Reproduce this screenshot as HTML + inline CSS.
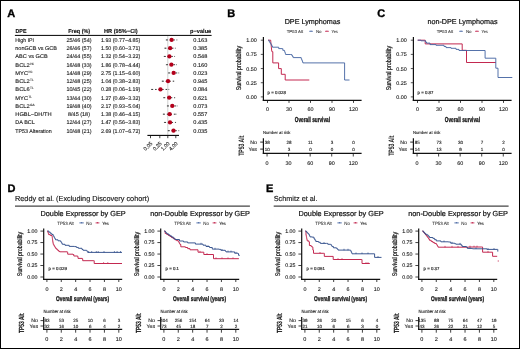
<!DOCTYPE html>
<html><head><meta charset="utf-8"><style>
html,body{margin:0;padding:0;background:#fff;}
#w{position:relative;width:520px;height:349px;overflow:hidden;background:#fff;}
svg{display:block;text-rendering:geometricPrecision;font-family:"Liberation Sans", sans-serif;filter:blur(0.4px);}
.bd{position:absolute;left:0;top:0;width:518px;height:347px;border:1px solid #000;}
</style></head><body><div id="w">
<svg width="520" height="349" viewBox="0 0 520 349" font-family='"Liberation Sans", sans-serif'>
<rect x="0" y="0" width="520" height="349" fill="#fff"/>
<text x="7.30" y="17.00" font-size="11" text-anchor="start" fill="#000" font-weight="bold" stroke="#000" stroke-width="0.35">A</text>
<text x="15.50" y="33.40" font-size="5.8" text-anchor="start" fill="#111" font-weight="bold" textLength="11.00" lengthAdjust="spacingAndGlyphs" stroke="#111" stroke-width="0.12">DPE</text>
<text x="68.20" y="33.40" font-size="5.8" text-anchor="start" fill="#111" font-weight="bold" textLength="22.00" lengthAdjust="spacingAndGlyphs" stroke="#111" stroke-width="0.12">Freq (%)</text>
<text x="104.00" y="33.40" font-size="5.8" text-anchor="start" fill="#111" font-weight="bold" textLength="33.70" lengthAdjust="spacingAndGlyphs" stroke="#111" stroke-width="0.12">HR (95%−CI)</text>
<text x="190.10" y="33.40" font-size="5.8" text-anchor="start" fill="#111" font-weight="bold" textLength="21.10" lengthAdjust="spacingAndGlyphs" stroke="#111" stroke-width="0.12">p−value</text>
<line x1="14.90" y1="35.40" x2="211.60" y2="35.40" stroke="#000" stroke-width="1.0"/>
<line x1="167.80" y1="36.00" x2="167.80" y2="135.00" stroke="#d0d0d0" stroke-width="1.0"/>
<text x="15.30" y="41.75" font-size="5.5" text-anchor="start" fill="#222" textLength="18.80" lengthAdjust="spacingAndGlyphs" stroke="#222" stroke-width="0.12">High IPI</text>
<text x="79.00" y="41.75" font-size="5.5" text-anchor="middle" fill="#222" stroke="#222" stroke-width="0.12">25/46 (54)</text>
<text x="120.65" y="41.75" font-size="5.3" text-anchor="middle" fill="#222" textLength="39.40" lengthAdjust="spacingAndGlyphs" stroke="#222" stroke-width="0.12">1.93 (0.77−4.85)</text>
<text x="200.30" y="41.75" font-size="5.5" text-anchor="middle" fill="#222" textLength="14.00" lengthAdjust="spacingAndGlyphs" stroke="#222" stroke-width="0.12">0.163</text>
<line x1="166.29" y1="39.95" x2="176.91" y2="39.95" stroke="#222" stroke-width="0.9" stroke-dasharray="1.6,1.9"/>
<line x1="166.29" y1="39.45" x2="166.29" y2="40.45" stroke="#222" stroke-width="0.6"/>
<line x1="176.91" y1="39.45" x2="176.91" y2="40.45" stroke="#222" stroke-width="0.6"/>
<circle cx="171.59" cy="39.95" r="2.15" fill="#b3001b"/>
<text x="15.30" y="50.00" font-size="5.5" text-anchor="start" fill="#222" textLength="41.70" lengthAdjust="spacingAndGlyphs" stroke="#222" stroke-width="0.12">nonGCB vs GCB</text>
<text x="79.00" y="50.00" font-size="5.5" text-anchor="middle" fill="#222" stroke="#222" stroke-width="0.12">26/46 (57)</text>
<text x="120.65" y="50.00" font-size="5.3" text-anchor="middle" fill="#222" textLength="39.40" lengthAdjust="spacingAndGlyphs" stroke="#222" stroke-width="0.12">1.50 (0.60−3.71)</text>
<text x="200.30" y="50.00" font-size="5.5" text-anchor="middle" fill="#222" textLength="14.00" lengthAdjust="spacingAndGlyphs" stroke="#222" stroke-width="0.12">0.385</text>
<line x1="164.85" y1="48.20" x2="175.36" y2="48.20" stroke="#222" stroke-width="0.9" stroke-dasharray="1.6,1.9"/>
<line x1="164.85" y1="47.70" x2="164.85" y2="48.70" stroke="#222" stroke-width="0.6"/>
<line x1="175.36" y1="47.70" x2="175.36" y2="48.70" stroke="#222" stroke-width="0.6"/>
<circle cx="170.14" cy="48.20" r="2.15" fill="#b3001b"/>
<text x="15.30" y="58.25" font-size="5.5" text-anchor="start" fill="#222" textLength="32.40" lengthAdjust="spacingAndGlyphs" stroke="#222" stroke-width="0.12">ABC vs GCB</text>
<text x="79.00" y="58.25" font-size="5.5" text-anchor="middle" fill="#222" stroke="#222" stroke-width="0.12">24/44 (55)</text>
<text x="120.65" y="58.25" font-size="5.3" text-anchor="middle" fill="#222" textLength="39.40" lengthAdjust="spacingAndGlyphs" stroke="#222" stroke-width="0.12">1.32 (0.54−3.22)</text>
<text x="200.30" y="58.25" font-size="5.5" text-anchor="middle" fill="#222" textLength="14.00" lengthAdjust="spacingAndGlyphs" stroke="#222" stroke-width="0.12">0.548</text>
<line x1="164.24" y1="56.45" x2="174.55" y2="56.45" stroke="#222" stroke-width="0.9" stroke-dasharray="1.6,1.9"/>
<line x1="164.24" y1="55.95" x2="164.24" y2="56.95" stroke="#222" stroke-width="0.6"/>
<line x1="174.55" y1="55.95" x2="174.55" y2="56.95" stroke="#222" stroke-width="0.6"/>
<circle cx="169.40" cy="56.45" r="2.15" fill="#b3001b"/>
<text x="15.30" y="66.50" font-size="5.5" text-anchor="start" fill="#222" textLength="14.40" lengthAdjust="spacingAndGlyphs" stroke="#222" stroke-width="0.12">BCL2</text>
<text x="30.00" y="64.50" font-size="3.2" fill="#333" stroke="#333" stroke-width="0.1" textLength="4.0" lengthAdjust="spacingAndGlyphs">IHC</text>
<text x="79.00" y="66.50" font-size="5.5" text-anchor="middle" fill="#222" stroke="#222" stroke-width="0.12">16/48 (33)</text>
<text x="120.65" y="66.50" font-size="5.3" text-anchor="middle" fill="#222" textLength="39.40" lengthAdjust="spacingAndGlyphs" stroke="#222" stroke-width="0.12">1.86 (0.78−4.44)</text>
<text x="200.30" y="66.50" font-size="5.5" text-anchor="middle" fill="#222" textLength="14.00" lengthAdjust="spacingAndGlyphs" stroke="#222" stroke-width="0.12">0.160</text>
<line x1="166.37" y1="64.70" x2="176.40" y2="64.70" stroke="#222" stroke-width="0.9" stroke-dasharray="1.6,1.9"/>
<line x1="166.37" y1="64.20" x2="166.37" y2="65.20" stroke="#222" stroke-width="0.6"/>
<line x1="176.40" y1="64.20" x2="176.40" y2="65.20" stroke="#222" stroke-width="0.6"/>
<circle cx="171.38" cy="64.70" r="2.15" fill="#b3001b"/>
<text x="15.30" y="74.75" font-size="5.5" text-anchor="start" fill="#222" textLength="12.80" lengthAdjust="spacingAndGlyphs" stroke="#222" stroke-width="0.12">MYC</text>
<text x="28.40" y="72.75" font-size="3.2" fill="#333" stroke="#333" stroke-width="0.1" textLength="4.0" lengthAdjust="spacingAndGlyphs">IHC</text>
<text x="79.00" y="74.75" font-size="5.5" text-anchor="middle" fill="#222" stroke="#222" stroke-width="0.12">14/48 (29)</text>
<text x="120.65" y="74.75" font-size="5.3" text-anchor="middle" fill="#222" textLength="39.40" lengthAdjust="spacingAndGlyphs" stroke="#222" stroke-width="0.12">2.75 (1.15−6.60)</text>
<text x="200.30" y="74.75" font-size="5.5" text-anchor="middle" fill="#222" textLength="14.00" lengthAdjust="spacingAndGlyphs" stroke="#222" stroke-width="0.12">0.023</text>
<line x1="168.61" y1="72.95" x2="178.69" y2="72.95" stroke="#222" stroke-width="0.9" stroke-dasharray="1.6,1.9"/>
<line x1="168.61" y1="72.45" x2="168.61" y2="73.45" stroke="#222" stroke-width="0.6"/>
<line x1="178.69" y1="72.45" x2="178.69" y2="73.45" stroke="#222" stroke-width="0.6"/>
<circle cx="173.64" cy="72.95" r="2.15" fill="#b3001b"/>
<text x="15.30" y="83.00" font-size="5.5" text-anchor="start" fill="#222" textLength="14.40" lengthAdjust="spacingAndGlyphs" stroke="#222" stroke-width="0.12">BCL2</text>
<text x="30.00" y="81.00" font-size="3.2" fill="#333" stroke="#333" stroke-width="0.1">TL</text>
<text x="79.00" y="83.00" font-size="5.5" text-anchor="middle" fill="#222" stroke="#222" stroke-width="0.12">12/48 (25)</text>
<text x="120.65" y="83.00" font-size="5.3" text-anchor="middle" fill="#222" textLength="39.40" lengthAdjust="spacingAndGlyphs" stroke="#222" stroke-width="0.12">1.04 (0.38−2.83)</text>
<text x="200.30" y="83.00" font-size="5.5" text-anchor="middle" fill="#222" textLength="14.00" lengthAdjust="spacingAndGlyphs" stroke="#222" stroke-width="0.12">0.945</text>
<line x1="162.22" y1="81.20" x2="173.80" y2="81.20" stroke="#222" stroke-width="0.9" stroke-dasharray="1.6,1.9"/>
<line x1="162.22" y1="80.70" x2="162.22" y2="81.70" stroke="#222" stroke-width="0.6"/>
<line x1="173.80" y1="80.70" x2="173.80" y2="81.70" stroke="#222" stroke-width="0.6"/>
<circle cx="168.03" cy="81.20" r="2.15" fill="#b3001b"/>
<text x="15.30" y="91.25" font-size="5.5" text-anchor="start" fill="#222" textLength="14.40" lengthAdjust="spacingAndGlyphs" stroke="#222" stroke-width="0.12">BCL6</text>
<text x="30.00" y="89.25" font-size="3.2" fill="#333" stroke="#333" stroke-width="0.1">TL</text>
<text x="79.00" y="91.25" font-size="5.5" text-anchor="middle" fill="#222" stroke="#222" stroke-width="0.12">10/45 (22)</text>
<text x="120.65" y="91.25" font-size="5.3" text-anchor="middle" fill="#222" textLength="39.40" lengthAdjust="spacingAndGlyphs" stroke="#222" stroke-width="0.12">0.28 (0.06−1.19)</text>
<text x="200.30" y="91.25" font-size="5.5" text-anchor="middle" fill="#222" textLength="14.00" lengthAdjust="spacingAndGlyphs" stroke="#222" stroke-width="0.12">0.084</text>
<line x1="151.57" y1="89.45" x2="168.80" y2="89.45" stroke="#222" stroke-width="0.9" stroke-dasharray="1.6,1.9"/>
<line x1="151.57" y1="88.95" x2="151.57" y2="89.95" stroke="#222" stroke-width="0.6"/>
<line x1="168.80" y1="88.95" x2="168.80" y2="89.95" stroke="#222" stroke-width="0.6"/>
<circle cx="160.45" cy="89.45" r="2.15" fill="#b3001b"/>
<text x="15.30" y="99.50" font-size="5.5" text-anchor="start" fill="#222" textLength="12.80" lengthAdjust="spacingAndGlyphs" stroke="#222" stroke-width="0.12">MYC</text>
<text x="28.40" y="97.50" font-size="3.2" fill="#333" stroke="#333" stroke-width="0.1">TL</text>
<text x="79.00" y="99.50" font-size="5.5" text-anchor="middle" fill="#222" stroke="#222" stroke-width="0.12">13/44 (30)</text>
<text x="120.65" y="99.50" font-size="5.3" text-anchor="middle" fill="#222" textLength="39.40" lengthAdjust="spacingAndGlyphs" stroke="#222" stroke-width="0.12">1.27 (0.49−3.32)</text>
<text x="200.30" y="99.50" font-size="5.5" text-anchor="middle" fill="#222" textLength="14.00" lengthAdjust="spacingAndGlyphs" stroke="#222" stroke-width="0.12">0.621</text>
<line x1="163.68" y1="97.70" x2="174.72" y2="97.70" stroke="#222" stroke-width="0.9" stroke-dasharray="1.6,1.9"/>
<line x1="163.68" y1="97.20" x2="163.68" y2="98.20" stroke="#222" stroke-width="0.6"/>
<line x1="174.72" y1="97.20" x2="174.72" y2="98.20" stroke="#222" stroke-width="0.6"/>
<circle cx="169.18" cy="97.70" r="2.15" fill="#b3001b"/>
<text x="15.30" y="107.75" font-size="5.5" text-anchor="start" fill="#222" textLength="14.40" lengthAdjust="spacingAndGlyphs" stroke="#222" stroke-width="0.12">BCL2</text>
<text x="30.00" y="105.75" font-size="3.2" fill="#333" stroke="#333" stroke-width="0.1">GA</text>
<text x="79.00" y="107.75" font-size="5.5" text-anchor="middle" fill="#222" stroke="#222" stroke-width="0.12">19/48 (40)</text>
<text x="120.65" y="107.75" font-size="5.3" text-anchor="middle" fill="#222" textLength="39.40" lengthAdjust="spacingAndGlyphs" stroke="#222" stroke-width="0.12">2.17 (0.93−5.04)</text>
<text x="200.30" y="107.75" font-size="5.5" text-anchor="middle" fill="#222" textLength="14.00" lengthAdjust="spacingAndGlyphs" stroke="#222" stroke-width="0.12">0.073</text>
<line x1="167.38" y1="105.95" x2="177.13" y2="105.95" stroke="#222" stroke-width="0.9" stroke-dasharray="1.6,1.9"/>
<line x1="167.38" y1="105.45" x2="167.38" y2="106.45" stroke="#222" stroke-width="0.6"/>
<line x1="177.13" y1="105.45" x2="177.13" y2="106.45" stroke="#222" stroke-width="0.6"/>
<circle cx="172.27" cy="105.95" r="2.15" fill="#b3001b"/>
<text x="15.30" y="116.00" font-size="5.5" text-anchor="start" fill="#222" textLength="36.30" lengthAdjust="spacingAndGlyphs" stroke="#222" stroke-width="0.12">HGBL−DH/TH</text>
<text x="79.00" y="116.00" font-size="5.5" text-anchor="middle" fill="#222" stroke="#222" stroke-width="0.12">8/45 (18)</text>
<text x="120.65" y="116.00" font-size="5.3" text-anchor="middle" fill="#222" textLength="39.40" lengthAdjust="spacingAndGlyphs" stroke="#222" stroke-width="0.12">1.38 (0.46−4.15)</text>
<text x="200.30" y="116.00" font-size="5.5" text-anchor="middle" fill="#222" textLength="14.00" lengthAdjust="spacingAndGlyphs" stroke="#222" stroke-width="0.12">0.557</text>
<line x1="163.32" y1="114.20" x2="176.01" y2="114.20" stroke="#222" stroke-width="0.9" stroke-dasharray="1.6,1.9"/>
<line x1="163.32" y1="113.70" x2="163.32" y2="114.70" stroke="#222" stroke-width="0.6"/>
<line x1="176.01" y1="113.70" x2="176.01" y2="114.70" stroke="#222" stroke-width="0.6"/>
<circle cx="169.66" cy="114.20" r="2.15" fill="#b3001b"/>
<text x="15.30" y="124.25" font-size="5.5" text-anchor="start" fill="#222" textLength="19.60" lengthAdjust="spacingAndGlyphs" stroke="#222" stroke-width="0.12">DA BCL</text>
<text x="79.00" y="124.25" font-size="5.5" text-anchor="middle" fill="#222" stroke="#222" stroke-width="0.12">12/44 (27)</text>
<text x="120.65" y="124.25" font-size="5.3" text-anchor="middle" fill="#222" textLength="39.40" lengthAdjust="spacingAndGlyphs" stroke="#222" stroke-width="0.12">1.47 (0.56−3.83)</text>
<text x="200.30" y="124.25" font-size="5.5" text-anchor="middle" fill="#222" textLength="14.00" lengthAdjust="spacingAndGlyphs" stroke="#222" stroke-width="0.12">0.435</text>
<line x1="164.45" y1="122.45" x2="175.55" y2="122.45" stroke="#222" stroke-width="0.9" stroke-dasharray="1.6,1.9"/>
<line x1="164.45" y1="121.95" x2="164.45" y2="122.95" stroke="#222" stroke-width="0.6"/>
<line x1="175.55" y1="121.95" x2="175.55" y2="122.95" stroke="#222" stroke-width="0.6"/>
<circle cx="170.02" cy="122.45" r="2.15" fill="#b3001b"/>
<text x="15.30" y="132.50" font-size="5.5" text-anchor="start" fill="#222" textLength="36.40" lengthAdjust="spacingAndGlyphs" stroke="#222" stroke-width="0.12">TP53 Alteration</text>
<text x="79.00" y="132.50" font-size="5.5" text-anchor="middle" fill="#222" stroke="#222" stroke-width="0.12">10/48 (21)</text>
<text x="120.65" y="132.50" font-size="5.3" text-anchor="middle" fill="#222" textLength="39.40" lengthAdjust="spacingAndGlyphs" stroke="#222" stroke-width="0.12">2.69 (1.07−6.72)</text>
<text x="200.30" y="132.50" font-size="5.5" text-anchor="middle" fill="#222" textLength="14.00" lengthAdjust="spacingAndGlyphs" stroke="#222" stroke-width="0.12">0.035</text>
<line x1="168.19" y1="130.70" x2="178.79" y2="130.70" stroke="#222" stroke-width="0.9" stroke-dasharray="1.6,1.9"/>
<line x1="168.19" y1="130.20" x2="168.19" y2="131.20" stroke="#222" stroke-width="0.6"/>
<line x1="178.79" y1="130.20" x2="178.79" y2="131.20" stroke="#222" stroke-width="0.6"/>
<circle cx="173.51" cy="130.70" r="2.15" fill="#b3001b"/>
<line x1="147.40" y1="135.40" x2="179.00" y2="135.40" stroke="#000" stroke-width="1.1"/>
<line x1="150.51" y1="135.40" x2="150.51" y2="138.20" stroke="#111" stroke-width="0.8"/>
<text x="0" y="0" font-size="5.3" text-anchor="end" fill="#222" stroke="#222" stroke-width="0.12" transform="translate(152.91,143.80) rotate(-45)">0.05</text>
<line x1="159.80" y1="135.40" x2="159.80" y2="138.20" stroke="#111" stroke-width="0.8"/>
<text x="0" y="0" font-size="5.3" text-anchor="end" fill="#222" stroke="#222" stroke-width="0.12" transform="translate(162.20,143.80) rotate(-45)">0.25</text>
<line x1="167.80" y1="135.40" x2="167.80" y2="138.20" stroke="#111" stroke-width="0.8"/>
<text x="0" y="0" font-size="5.3" text-anchor="end" fill="#222" stroke="#222" stroke-width="0.12" transform="translate(170.20,143.80) rotate(-45)">1.00</text>
<line x1="175.80" y1="135.40" x2="175.80" y2="138.20" stroke="#111" stroke-width="0.8"/>
<text x="0" y="0" font-size="5.3" text-anchor="end" fill="#222" stroke="#222" stroke-width="0.12" transform="translate(178.20,143.80) rotate(-45)">4.00</text>
<text x="227.30" y="17.00" font-size="11" text-anchor="start" fill="#000" font-weight="bold" stroke="#000" stroke-width="0.35">B</text>
<text x="312.50" y="24.00" font-size="7.2" text-anchor="middle" fill="#111" stroke="#111" stroke-width="0.2">DPE Lymphomas</text>
<text x="286.70" y="32.80" font-size="4.2" text-anchor="start" fill="#222" textLength="16.40" lengthAdjust="spacingAndGlyphs" stroke="#222" stroke-width="0.04">TP53 Alt</text>
<line x1="309.20" y1="31.30" x2="312.90" y2="31.30" stroke="#4262a0" stroke-width="0.8"/>
<line x1="311.05" y1="30.50" x2="311.05" y2="31.70" stroke="#4262a0" stroke-width="0.7"/>
<text x="315.90" y="32.80" font-size="4.2" text-anchor="start" fill="#222" textLength="5.70" lengthAdjust="spacingAndGlyphs" stroke="#222" stroke-width="0.04">No</text>
<line x1="325.00" y1="31.30" x2="328.90" y2="31.30" stroke="#c32850" stroke-width="0.8"/>
<line x1="326.95" y1="30.50" x2="326.95" y2="31.70" stroke="#c32850" stroke-width="0.7"/>
<text x="331.50" y="32.80" font-size="4.2" text-anchor="start" fill="#222" textLength="6.30" lengthAdjust="spacingAndGlyphs" stroke="#222" stroke-width="0.04">Yes</text>
<line x1="263.40" y1="37.00" x2="263.40" y2="100.95" stroke="#111" stroke-width="1.2"/>
<line x1="262.80" y1="100.35" x2="361.60" y2="100.35" stroke="#111" stroke-width="1.2"/>
<line x1="260.80" y1="96.90" x2="263.40" y2="96.90" stroke="#111" stroke-width="0.7"/>
<text x="256.80" y="98.85" font-size="5.4" text-anchor="end" fill="#222" stroke="#222" stroke-width="0.12">0.00</text>
<line x1="260.80" y1="82.73" x2="263.40" y2="82.73" stroke="#111" stroke-width="0.7"/>
<text x="256.80" y="84.68" font-size="5.4" text-anchor="end" fill="#222" stroke="#222" stroke-width="0.12">0.25</text>
<line x1="260.80" y1="68.55" x2="263.40" y2="68.55" stroke="#111" stroke-width="0.7"/>
<text x="256.80" y="70.50" font-size="5.4" text-anchor="end" fill="#222" stroke="#222" stroke-width="0.12">0.50</text>
<line x1="260.80" y1="54.38" x2="263.40" y2="54.38" stroke="#111" stroke-width="0.7"/>
<text x="256.80" y="56.33" font-size="5.4" text-anchor="end" fill="#222" stroke="#222" stroke-width="0.12">0.75</text>
<line x1="260.80" y1="40.20" x2="263.40" y2="40.20" stroke="#111" stroke-width="0.7"/>
<text x="256.80" y="42.15" font-size="5.4" text-anchor="end" fill="#222" stroke="#222" stroke-width="0.12">1.00</text>
<line x1="267.50" y1="100.35" x2="267.50" y2="102.90" stroke="#111" stroke-width="0.8"/>
<text x="267.50" y="111.20" font-size="5.4" text-anchor="middle" fill="#222" stroke="#222" stroke-width="0.12">0</text>
<line x1="289.00" y1="100.35" x2="289.00" y2="102.90" stroke="#111" stroke-width="0.8"/>
<text x="289.00" y="111.20" font-size="5.4" text-anchor="middle" fill="#222" stroke="#222" stroke-width="0.12">30</text>
<line x1="310.50" y1="100.35" x2="310.50" y2="102.90" stroke="#111" stroke-width="0.8"/>
<text x="310.50" y="111.20" font-size="5.4" text-anchor="middle" fill="#222" stroke="#222" stroke-width="0.12">60</text>
<line x1="332.00" y1="100.35" x2="332.00" y2="102.90" stroke="#111" stroke-width="0.8"/>
<text x="332.00" y="111.20" font-size="5.4" text-anchor="middle" fill="#222" stroke="#222" stroke-width="0.12">90</text>
<line x1="353.50" y1="100.35" x2="353.50" y2="102.90" stroke="#111" stroke-width="0.8"/>
<text x="353.50" y="111.20" font-size="5.4" text-anchor="middle" fill="#222" stroke="#222" stroke-width="0.12">120</text>
<text x="312.40" y="121.70" font-size="7.2" text-anchor="middle" fill="#111" font-weight="bold" textLength="35.20" lengthAdjust="spacingAndGlyphs" stroke="#111" stroke-width="0.3">Overall survival</text>
<text x="0" y="0" font-size="7" text-anchor="middle" fill="#111" stroke="#111" stroke-width="0.2" textLength="44.3" lengthAdjust="spacingAndGlyphs" transform="translate(241.00,68.1) rotate(-90)">Survival probability</text>
<text x="267.60" y="93.60" font-size="4.35" text-anchor="start" fill="#222" stroke="#222" stroke-width="0.16">p = 0.028</text>
<path d="M268.20,40.20 H270.60 V40.20 H270.71 V41.30 H270.82 V42.40 H270.93 V43.50 H271.04 V44.60 H271.15 V45.70 H271.26 V46.80 H271.37 V47.90 H271.48 V49.00 H271.59 V50.10 H271.70 V51.20 H272.10 V51.70 H272.80 V62.90 H278.60 V62.90 H278.60 V68.60 H281.30 V68.60 H281.30 V74.30 H285.20 V74.30 H285.20 V80.00 H309.30 V80.00" fill="none" stroke="#c32850" stroke-width="1.0"/>
<path d="M268.20,40.20 H268.90 V41.27 H269.60 V42.33 H270.30 V43.40 H271.00 V44.67 H271.70 V45.93 H272.40 V47.20 H278.40 V47.20 H278.70 V48.60 H282.30 V48.60 H282.80 V50.30 H284.20 V50.50 H284.55 V51.50 H284.90 V52.50 H285.25 V53.50 H285.60 V54.50 H290.80 V54.50 H291.80 V55.50 H292.50 V56.55 H293.20 V57.60 H300.00 V57.60 H301.20 V58.60 H301.62 V59.67 H302.05 V60.75 H302.47 V61.83 H302.90 V62.90 H344.60 V62.90 H344.60 V80.00 H349.50 V80.00" fill="none" stroke="#4262a0" stroke-width="0.9"/>
<line x1="287.00" y1="-0.80" x2="287.00" y2="0.80" stroke="#4262a0" stroke-width="0.7"/>
<line x1="295.00" y1="-0.80" x2="295.00" y2="0.80" stroke="#4262a0" stroke-width="0.7"/>
<line x1="297.00" y1="-0.80" x2="297.00" y2="0.80" stroke="#4262a0" stroke-width="0.7"/>
<line x1="304.00" y1="-0.80" x2="304.00" y2="0.80" stroke="#4262a0" stroke-width="0.7"/>
<line x1="306.50" y1="-0.80" x2="306.50" y2="0.80" stroke="#4262a0" stroke-width="0.7"/>
<line x1="309.00" y1="-0.80" x2="309.00" y2="0.80" stroke="#4262a0" stroke-width="0.7"/>
<line x1="312.00" y1="-0.80" x2="312.00" y2="0.80" stroke="#4262a0" stroke-width="0.7"/>
<line x1="321.00" y1="-0.80" x2="321.00" y2="0.80" stroke="#4262a0" stroke-width="0.7"/>
<line x1="348.00" y1="-0.80" x2="348.00" y2="0.80" stroke="#4262a0" stroke-width="0.7"/>
<line x1="305.00" y1="-0.80" x2="305.00" y2="0.80" stroke="#c32850" stroke-width="0.7"/>
<line x1="307.00" y1="-0.80" x2="307.00" y2="0.80" stroke="#c32850" stroke-width="0.7"/>
<line x1="309.00" y1="-0.80" x2="309.00" y2="0.80" stroke="#c32850" stroke-width="0.7"/>
<text x="262.90" y="134.10" font-size="4.3" text-anchor="start" fill="#222" textLength="27.50" lengthAdjust="spacingAndGlyphs" stroke="#222" stroke-width="0.12">Number at risk</text>
<line x1="263.40" y1="138.30" x2="263.40" y2="154.05" stroke="#111" stroke-width="1.2"/>
<line x1="262.80" y1="153.45" x2="361.60" y2="153.45" stroke="#111" stroke-width="1.2"/>
<line x1="260.20" y1="142.10" x2="263.40" y2="142.10" stroke="#111" stroke-width="0.9"/>
<text x="256.90" y="144.00" font-size="5.2" text-anchor="end" fill="#222" stroke="#222" stroke-width="0.12">No</text>
<text x="267.35" y="143.70" font-size="4.5" text-anchor="middle" fill="#222" stroke="#222" stroke-width="0.12">38</text>
<text x="288.91" y="143.70" font-size="4.5" text-anchor="middle" fill="#222" stroke="#222" stroke-width="0.12">28</text>
<text x="310.46" y="143.70" font-size="4.5" text-anchor="middle" fill="#222" stroke="#222" stroke-width="0.12">11</text>
<text x="332.02" y="143.70" font-size="4.5" text-anchor="middle" fill="#222" stroke="#222" stroke-width="0.12">3</text>
<text x="353.57" y="143.70" font-size="4.5" text-anchor="middle" fill="#222" stroke="#222" stroke-width="0.12">0</text>
<line x1="260.20" y1="149.10" x2="263.40" y2="149.10" stroke="#111" stroke-width="0.9"/>
<text x="256.90" y="151.00" font-size="5.2" text-anchor="end" fill="#222" stroke="#222" stroke-width="0.12">Yes</text>
<text x="267.35" y="150.70" font-size="4.5" text-anchor="middle" fill="#222" stroke="#222" stroke-width="0.12">10</text>
<text x="288.91" y="150.70" font-size="4.5" text-anchor="middle" fill="#222" stroke="#222" stroke-width="0.12">3</text>
<text x="310.46" y="150.70" font-size="4.5" text-anchor="middle" fill="#222" stroke="#222" stroke-width="0.12">0</text>
<text x="332.02" y="150.70" font-size="4.5" text-anchor="middle" fill="#222" stroke="#222" stroke-width="0.12">0</text>
<text x="353.57" y="150.70" font-size="4.5" text-anchor="middle" fill="#222" stroke="#222" stroke-width="0.12">0</text>
<line x1="267.05" y1="153.30" x2="267.05" y2="156.50" stroke="#111" stroke-width="0.8"/>
<text x="267.05" y="164.50" font-size="5.4" text-anchor="middle" fill="#222" stroke="#222" stroke-width="0.12">0</text>
<line x1="288.61" y1="153.30" x2="288.61" y2="156.50" stroke="#111" stroke-width="0.8"/>
<text x="288.61" y="164.50" font-size="5.4" text-anchor="middle" fill="#222" stroke="#222" stroke-width="0.12">30</text>
<line x1="310.16" y1="153.30" x2="310.16" y2="156.50" stroke="#111" stroke-width="0.8"/>
<text x="310.16" y="164.50" font-size="5.4" text-anchor="middle" fill="#222" stroke="#222" stroke-width="0.12">60</text>
<line x1="331.72" y1="153.30" x2="331.72" y2="156.50" stroke="#111" stroke-width="0.8"/>
<text x="331.72" y="164.50" font-size="5.4" text-anchor="middle" fill="#222" stroke="#222" stroke-width="0.12">90</text>
<line x1="353.27" y1="153.30" x2="353.27" y2="156.50" stroke="#111" stroke-width="0.8"/>
<text x="353.27" y="164.50" font-size="5.4" text-anchor="middle" fill="#222" stroke="#222" stroke-width="0.12">120</text>
<text x="0" y="0" font-size="7.8" text-anchor="middle" fill="#111" font-weight="bold" textLength="20.2" lengthAdjust="spacingAndGlyphs" transform="translate(244.00,145.7) rotate(-90)">TP53 Alt</text>
<text x="377.30" y="17.00" font-size="11" text-anchor="start" fill="#000" font-weight="bold" stroke="#000" stroke-width="0.35">C</text>
<text x="462.50" y="24.00" font-size="7.2" text-anchor="middle" fill="#111" stroke="#111" stroke-width="0.2">non-DPE Lymphomas</text>
<text x="436.70" y="32.80" font-size="4.2" text-anchor="start" fill="#222" textLength="16.40" lengthAdjust="spacingAndGlyphs" stroke="#222" stroke-width="0.04">TP53 Alt</text>
<line x1="459.20" y1="31.30" x2="462.90" y2="31.30" stroke="#4262a0" stroke-width="0.8"/>
<line x1="461.05" y1="30.50" x2="461.05" y2="31.70" stroke="#4262a0" stroke-width="0.7"/>
<text x="465.90" y="32.80" font-size="4.2" text-anchor="start" fill="#222" textLength="5.70" lengthAdjust="spacingAndGlyphs" stroke="#222" stroke-width="0.04">No</text>
<line x1="475.00" y1="31.30" x2="478.90" y2="31.30" stroke="#c32850" stroke-width="0.8"/>
<line x1="476.95" y1="30.50" x2="476.95" y2="31.70" stroke="#c32850" stroke-width="0.7"/>
<text x="481.50" y="32.80" font-size="4.2" text-anchor="start" fill="#222" textLength="6.30" lengthAdjust="spacingAndGlyphs" stroke="#222" stroke-width="0.04">Yes</text>
<line x1="413.40" y1="37.00" x2="413.40" y2="100.95" stroke="#111" stroke-width="1.2"/>
<line x1="412.80" y1="100.35" x2="511.60" y2="100.35" stroke="#111" stroke-width="1.2"/>
<line x1="410.80" y1="96.90" x2="413.40" y2="96.90" stroke="#111" stroke-width="0.7"/>
<text x="406.80" y="98.85" font-size="5.4" text-anchor="end" fill="#222" stroke="#222" stroke-width="0.12">0.00</text>
<line x1="410.80" y1="82.73" x2="413.40" y2="82.73" stroke="#111" stroke-width="0.7"/>
<text x="406.80" y="84.68" font-size="5.4" text-anchor="end" fill="#222" stroke="#222" stroke-width="0.12">0.25</text>
<line x1="410.80" y1="68.55" x2="413.40" y2="68.55" stroke="#111" stroke-width="0.7"/>
<text x="406.80" y="70.50" font-size="5.4" text-anchor="end" fill="#222" stroke="#222" stroke-width="0.12">0.50</text>
<line x1="410.80" y1="54.38" x2="413.40" y2="54.38" stroke="#111" stroke-width="0.7"/>
<text x="406.80" y="56.33" font-size="5.4" text-anchor="end" fill="#222" stroke="#222" stroke-width="0.12">0.75</text>
<line x1="410.80" y1="40.20" x2="413.40" y2="40.20" stroke="#111" stroke-width="0.7"/>
<text x="406.80" y="42.15" font-size="5.4" text-anchor="end" fill="#222" stroke="#222" stroke-width="0.12">1.00</text>
<line x1="417.50" y1="100.35" x2="417.50" y2="102.90" stroke="#111" stroke-width="0.8"/>
<text x="417.50" y="111.20" font-size="5.4" text-anchor="middle" fill="#222" stroke="#222" stroke-width="0.12">0</text>
<line x1="439.00" y1="100.35" x2="439.00" y2="102.90" stroke="#111" stroke-width="0.8"/>
<text x="439.00" y="111.20" font-size="5.4" text-anchor="middle" fill="#222" stroke="#222" stroke-width="0.12">30</text>
<line x1="460.50" y1="100.35" x2="460.50" y2="102.90" stroke="#111" stroke-width="0.8"/>
<text x="460.50" y="111.20" font-size="5.4" text-anchor="middle" fill="#222" stroke="#222" stroke-width="0.12">60</text>
<line x1="482.00" y1="100.35" x2="482.00" y2="102.90" stroke="#111" stroke-width="0.8"/>
<text x="482.00" y="111.20" font-size="5.4" text-anchor="middle" fill="#222" stroke="#222" stroke-width="0.12">90</text>
<line x1="503.50" y1="100.35" x2="503.50" y2="102.90" stroke="#111" stroke-width="0.8"/>
<text x="503.50" y="111.20" font-size="5.4" text-anchor="middle" fill="#222" stroke="#222" stroke-width="0.12">120</text>
<text x="462.40" y="121.70" font-size="7.2" text-anchor="middle" fill="#111" font-weight="bold" textLength="35.20" lengthAdjust="spacingAndGlyphs" stroke="#111" stroke-width="0.3">Overall survival</text>
<text x="0" y="0" font-size="7" text-anchor="middle" fill="#111" stroke="#111" stroke-width="0.2" textLength="44.3" lengthAdjust="spacingAndGlyphs" transform="translate(391.00,68.1) rotate(-90)">Survival probability</text>
<text x="417.60" y="93.60" font-size="4.35" text-anchor="start" fill="#222" stroke="#222" stroke-width="0.16">p = 0.87</text>
<path d="M417.70,40.20 H425.20 V40.20 H425.20 V43.90 H462.20 V43.90 H462.20 V50.30 H466.50 V50.30 H466.50 V62.50 H495.80 V62.50" fill="none" stroke="#c32850" stroke-width="1.0"/>
<path d="M417.70,40.20 H421.00 V40.20 H421.00 V40.80 H424.50 V40.80 H425.50 V41.95 H426.50 V43.10 H428.00 V43.10 H430.00 V44.60 H436.00 V44.60 H436.00 V45.30 H442.00 V45.30 H444.00 V46.45 H446.00 V47.60 H451.00 V47.60 H451.00 V48.30 H453.00 V48.30 H456.00 V49.40 H459.00 V50.50 H485.10 V50.50 H485.10 V58.20 H495.80 V58.20 H495.80 V68.20 H498.00 V68.20 H498.00 V77.50 H512.30 V77.50" fill="none" stroke="#4262a0" stroke-width="0.9"/>
<line x1="420.00" y1="-0.80" x2="420.00" y2="0.80" stroke="#4262a0" stroke-width="0.7"/>
<line x1="423.00" y1="-0.80" x2="423.00" y2="0.80" stroke="#4262a0" stroke-width="0.7"/>
<line x1="433.00" y1="-0.80" x2="433.00" y2="0.80" stroke="#4262a0" stroke-width="0.7"/>
<line x1="437.00" y1="-0.80" x2="437.00" y2="0.80" stroke="#4262a0" stroke-width="0.7"/>
<line x1="439.00" y1="-0.80" x2="439.00" y2="0.80" stroke="#4262a0" stroke-width="0.7"/>
<line x1="447.00" y1="-0.80" x2="447.00" y2="0.80" stroke="#4262a0" stroke-width="0.7"/>
<line x1="452.00" y1="-0.80" x2="452.00" y2="0.80" stroke="#4262a0" stroke-width="0.7"/>
<line x1="456.00" y1="-0.80" x2="456.00" y2="0.80" stroke="#4262a0" stroke-width="0.7"/>
<line x1="463.00" y1="-0.80" x2="463.00" y2="0.80" stroke="#4262a0" stroke-width="0.7"/>
<line x1="466.00" y1="-0.80" x2="466.00" y2="0.80" stroke="#4262a0" stroke-width="0.7"/>
<line x1="470.00" y1="-0.80" x2="470.00" y2="0.80" stroke="#4262a0" stroke-width="0.7"/>
<line x1="473.00" y1="-0.80" x2="473.00" y2="0.80" stroke="#4262a0" stroke-width="0.7"/>
<line x1="476.00" y1="-0.80" x2="476.00" y2="0.80" stroke="#4262a0" stroke-width="0.7"/>
<line x1="480.00" y1="-0.80" x2="480.00" y2="0.80" stroke="#4262a0" stroke-width="0.7"/>
<line x1="489.00" y1="-0.80" x2="489.00" y2="0.80" stroke="#4262a0" stroke-width="0.7"/>
<line x1="503.00" y1="-0.80" x2="503.00" y2="0.80" stroke="#4262a0" stroke-width="0.7"/>
<line x1="508.00" y1="-0.80" x2="508.00" y2="0.80" stroke="#4262a0" stroke-width="0.7"/>
<line x1="449.00" y1="-0.80" x2="449.00" y2="0.80" stroke="#c32850" stroke-width="0.7"/>
<line x1="451.00" y1="-0.80" x2="451.00" y2="0.80" stroke="#c32850" stroke-width="0.7"/>
<line x1="478.00" y1="-0.80" x2="478.00" y2="0.80" stroke="#c32850" stroke-width="0.7"/>
<line x1="480.00" y1="-0.80" x2="480.00" y2="0.80" stroke="#c32850" stroke-width="0.7"/>
<text x="412.90" y="134.10" font-size="4.3" text-anchor="start" fill="#222" textLength="27.50" lengthAdjust="spacingAndGlyphs" stroke="#222" stroke-width="0.12">Number at risk</text>
<line x1="413.40" y1="138.30" x2="413.40" y2="154.05" stroke="#111" stroke-width="1.2"/>
<line x1="412.80" y1="153.45" x2="511.60" y2="153.45" stroke="#111" stroke-width="1.2"/>
<line x1="410.20" y1="142.10" x2="413.40" y2="142.10" stroke="#111" stroke-width="0.9"/>
<text x="406.90" y="144.00" font-size="5.2" text-anchor="end" fill="#222" stroke="#222" stroke-width="0.12">No</text>
<text x="417.35" y="143.70" font-size="4.5" text-anchor="middle" fill="#222" stroke="#222" stroke-width="0.12">85</text>
<text x="438.91" y="143.70" font-size="4.5" text-anchor="middle" fill="#222" stroke="#222" stroke-width="0.12">73</text>
<text x="460.46" y="143.70" font-size="4.5" text-anchor="middle" fill="#222" stroke="#222" stroke-width="0.12">30</text>
<text x="482.02" y="143.70" font-size="4.5" text-anchor="middle" fill="#222" stroke="#222" stroke-width="0.12">7</text>
<text x="503.57" y="143.70" font-size="4.5" text-anchor="middle" fill="#222" stroke="#222" stroke-width="0.12">2</text>
<line x1="410.20" y1="149.10" x2="413.40" y2="149.10" stroke="#111" stroke-width="0.9"/>
<text x="406.90" y="151.00" font-size="5.2" text-anchor="end" fill="#222" stroke="#222" stroke-width="0.12">Yes</text>
<text x="417.35" y="150.70" font-size="4.5" text-anchor="middle" fill="#222" stroke="#222" stroke-width="0.12">14</text>
<text x="438.91" y="150.70" font-size="4.5" text-anchor="middle" fill="#222" stroke="#222" stroke-width="0.12">13</text>
<text x="460.46" y="150.70" font-size="4.5" text-anchor="middle" fill="#222" stroke="#222" stroke-width="0.12">9</text>
<text x="482.02" y="150.70" font-size="4.5" text-anchor="middle" fill="#222" stroke="#222" stroke-width="0.12">1</text>
<text x="503.57" y="150.70" font-size="4.5" text-anchor="middle" fill="#222" stroke="#222" stroke-width="0.12">0</text>
<line x1="417.05" y1="153.30" x2="417.05" y2="156.50" stroke="#111" stroke-width="0.8"/>
<text x="417.05" y="164.50" font-size="5.4" text-anchor="middle" fill="#222" stroke="#222" stroke-width="0.12">0</text>
<line x1="438.61" y1="153.30" x2="438.61" y2="156.50" stroke="#111" stroke-width="0.8"/>
<text x="438.61" y="164.50" font-size="5.4" text-anchor="middle" fill="#222" stroke="#222" stroke-width="0.12">30</text>
<line x1="460.16" y1="153.30" x2="460.16" y2="156.50" stroke="#111" stroke-width="0.8"/>
<text x="460.16" y="164.50" font-size="5.4" text-anchor="middle" fill="#222" stroke="#222" stroke-width="0.12">60</text>
<line x1="481.72" y1="153.30" x2="481.72" y2="156.50" stroke="#111" stroke-width="0.8"/>
<text x="481.72" y="164.50" font-size="5.4" text-anchor="middle" fill="#222" stroke="#222" stroke-width="0.12">90</text>
<line x1="503.27" y1="153.30" x2="503.27" y2="156.50" stroke="#111" stroke-width="0.8"/>
<text x="503.27" y="164.50" font-size="5.4" text-anchor="middle" fill="#222" stroke="#222" stroke-width="0.12">120</text>
<text x="0" y="0" font-size="7.8" text-anchor="middle" fill="#111" font-weight="bold" textLength="20.2" lengthAdjust="spacingAndGlyphs" transform="translate(394.00,145.7) rotate(-90)">TP53 Alt</text>
<text x="7.40" y="191.70" font-size="11" text-anchor="start" fill="#000" font-weight="bold" stroke="#000" stroke-width="0.35">D</text>
<text x="15.00" y="201.30" font-size="7.3" text-anchor="start" fill="#111" textLength="134.20" lengthAdjust="spacingAndGlyphs" stroke="#111" stroke-width="0.12">Reddy et al. (Excluding Discovery cohort)</text>
<line x1="15.00" y1="206.10" x2="249.90" y2="206.10" stroke="#444" stroke-width="1.2"/>
<text x="83.10" y="216.00" font-size="7.3" text-anchor="middle" fill="#111" stroke="#111" stroke-width="0.2">Double Expressor by GEP</text>
<text x="57.25" y="224.55" font-size="4.6" text-anchor="start" fill="#222" textLength="16.50" lengthAdjust="spacingAndGlyphs" stroke="#222" stroke-width="0.05">TP53 Alt</text>
<line x1="79.40" y1="222.90" x2="83.75" y2="222.90" stroke="#4262a0" stroke-width="0.9"/>
<line x1="81.60" y1="222.00" x2="81.60" y2="223.30" stroke="#4262a0" stroke-width="0.8"/>
<text x="86.25" y="224.55" font-size="4.6" text-anchor="start" fill="#222" textLength="5.70" lengthAdjust="spacingAndGlyphs" stroke="#222" stroke-width="0.04">No</text>
<line x1="95.60" y1="222.90" x2="99.40" y2="222.90" stroke="#c32850" stroke-width="0.9"/>
<line x1="97.50" y1="222.00" x2="97.50" y2="223.30" stroke="#c32850" stroke-width="0.8"/>
<text x="102.25" y="224.55" font-size="4.6" text-anchor="start" fill="#222" textLength="6.50" lengthAdjust="spacingAndGlyphs" stroke="#222" stroke-width="0.05">Yes</text>
<line x1="43.70" y1="228.60" x2="43.70" y2="279.95" stroke="#111" stroke-width="1.2"/>
<line x1="43.10" y1="279.35" x2="122.20" y2="279.35" stroke="#111" stroke-width="1.2"/>
<line x1="40.40" y1="277.00" x2="43.70" y2="277.00" stroke="#111" stroke-width="0.8"/>
<text x="37.50" y="278.90" font-size="5.3" text-anchor="end" fill="#222" stroke="#222" stroke-width="0.12">0.00</text>
<line x1="40.40" y1="265.52" x2="43.70" y2="265.52" stroke="#111" stroke-width="0.8"/>
<text x="37.50" y="267.42" font-size="5.3" text-anchor="end" fill="#222" stroke="#222" stroke-width="0.12">0.25</text>
<line x1="40.40" y1="254.05" x2="43.70" y2="254.05" stroke="#111" stroke-width="0.8"/>
<text x="37.50" y="255.95" font-size="5.3" text-anchor="end" fill="#222" stroke="#222" stroke-width="0.12">0.50</text>
<line x1="40.40" y1="242.57" x2="43.70" y2="242.57" stroke="#111" stroke-width="0.8"/>
<text x="37.50" y="244.47" font-size="5.3" text-anchor="end" fill="#222" stroke="#222" stroke-width="0.12">0.75</text>
<line x1="40.40" y1="231.10" x2="43.70" y2="231.10" stroke="#111" stroke-width="0.8"/>
<text x="37.50" y="233.00" font-size="5.3" text-anchor="end" fill="#222" stroke="#222" stroke-width="0.12">1.00</text>
<line x1="46.90" y1="279.35" x2="46.90" y2="282.00" stroke="#111" stroke-width="0.8"/>
<text x="46.90" y="290.60" font-size="5.4" text-anchor="middle" fill="#222" stroke="#222" stroke-width="0.12">0</text>
<line x1="61.28" y1="279.35" x2="61.28" y2="282.00" stroke="#111" stroke-width="0.8"/>
<text x="61.28" y="290.60" font-size="5.4" text-anchor="middle" fill="#222" stroke="#222" stroke-width="0.12">2</text>
<line x1="75.66" y1="279.35" x2="75.66" y2="282.00" stroke="#111" stroke-width="0.8"/>
<text x="75.66" y="290.60" font-size="5.4" text-anchor="middle" fill="#222" stroke="#222" stroke-width="0.12">4</text>
<line x1="90.04" y1="279.35" x2="90.04" y2="282.00" stroke="#111" stroke-width="0.8"/>
<text x="90.04" y="290.60" font-size="5.4" text-anchor="middle" fill="#222" stroke="#222" stroke-width="0.12">6</text>
<line x1="104.42" y1="279.35" x2="104.42" y2="282.00" stroke="#111" stroke-width="0.8"/>
<text x="104.42" y="290.60" font-size="5.4" text-anchor="middle" fill="#222" stroke="#222" stroke-width="0.12">8</text>
<line x1="118.80" y1="279.35" x2="118.80" y2="282.00" stroke="#111" stroke-width="0.8"/>
<text x="118.80" y="290.60" font-size="5.4" text-anchor="middle" fill="#222" stroke="#222" stroke-width="0.12">10</text>
<text x="82.60" y="301.20" font-size="6.9" text-anchor="middle" fill="#111" font-weight="bold" textLength="53.10" lengthAdjust="spacingAndGlyphs" stroke="#111" stroke-width="0.25">Overall survival (years)</text>
<text x="0" y="0" font-size="6.8" text-anchor="middle" fill="#111" stroke="#111" stroke-width="0.2" textLength="44.3" lengthAdjust="spacingAndGlyphs" transform="translate(21.70,254.0) rotate(-90)">Survival probability</text>
<text x="48.60" y="269.70" font-size="4.35" text-anchor="start" fill="#222" stroke="#222" stroke-width="0.16">p = 0.029</text>
<path d="M47.40,231.00 H47.80 V232.20 H48.20 V233.40 H48.60 V234.60 H50.30 V235.45 H52.00 V236.30 H52.17 V237.44 H52.34 V238.59 H52.51 V239.73 H52.69 V240.87 H52.86 V242.01 H53.03 V243.16 H53.20 V244.30 H53.78 V245.30 H54.35 V246.30 H54.92 V247.30 H55.50 V248.30 H56.63 V249.40 H57.77 V250.50 H58.90 V251.60 H60.00 V251.80 H67.30 V252.20 H67.70 V254.20 H73.00 V254.50 H73.80 V256.00 H77.70 V256.50 H78.00 V258.40 H82.30 V258.80 H82.70 V260.70 H93.80 V260.70 H94.20 V263.50 H122.00 V263.50" fill="none" stroke="#c32850" stroke-width="1.0"/>
<path d="M47.40,231.00 H48.85 V232.18 H50.30 V233.35 H51.75 V234.52 H53.20 V235.70 H53.78 V236.72 H54.35 V237.75 H54.92 V238.78 H55.50 V239.80 H58.00 V240.80 H60.60 V241.50 H61.17 V242.43 H61.73 V243.37 H62.30 V244.30 H65.00 V245.30 H69.20 V246.40 H74.40 V246.60 H76.40 V247.45 H78.40 V248.30 H82.00 V249.50 H83.10 V250.30 H86.60 V250.70 H87.15 V251.55 H87.70 V252.40 H122.00 V252.40" fill="none" stroke="#33508c" stroke-width="0.95"/>
<line x1="103.60" y1="262.20" x2="103.60" y2="263.70" stroke="#c32850" stroke-width="0.75"/>
<line x1="107.80" y1="262.20" x2="107.80" y2="263.70" stroke="#c32850" stroke-width="0.75"/>
<line x1="88.60" y1="251.10" x2="88.60" y2="252.60" stroke="#33508c" stroke-width="0.75"/>
<line x1="91.70" y1="251.10" x2="91.70" y2="252.60" stroke="#33508c" stroke-width="0.75"/>
<line x1="96.30" y1="251.10" x2="96.30" y2="252.60" stroke="#33508c" stroke-width="0.75"/>
<line x1="98.20" y1="251.10" x2="98.20" y2="252.60" stroke="#33508c" stroke-width="0.75"/>
<line x1="104.00" y1="251.10" x2="104.00" y2="252.60" stroke="#33508c" stroke-width="0.75"/>
<line x1="114.40" y1="251.10" x2="114.40" y2="252.60" stroke="#33508c" stroke-width="0.75"/>
<line x1="117.10" y1="251.10" x2="117.10" y2="252.60" stroke="#33508c" stroke-width="0.75"/>
<line x1="120.50" y1="251.10" x2="120.50" y2="252.60" stroke="#33508c" stroke-width="0.75"/>
<text x="43.60" y="313.40" font-size="4.5" text-anchor="start" fill="#222" textLength="27.10" lengthAdjust="spacingAndGlyphs" stroke="#222" stroke-width="0.12">Number at risk</text>
<line x1="43.70" y1="317.10" x2="43.70" y2="329.90" stroke="#111" stroke-width="1.2"/>
<line x1="43.10" y1="329.30" x2="122.20" y2="329.30" stroke="#111" stroke-width="1.2"/>
<line x1="40.50" y1="320.60" x2="43.70" y2="320.60" stroke="#111" stroke-width="0.8"/>
<text x="38.00" y="322.45" font-size="5.2" text-anchor="end" fill="#222" stroke="#222" stroke-width="0.12">No</text>
<text x="47.10" y="322.20" font-size="4.5" text-anchor="middle" fill="#222" stroke="#222" stroke-width="0.12">83</text>
<text x="61.48" y="322.20" font-size="4.5" text-anchor="middle" fill="#222" stroke="#222" stroke-width="0.12">53</text>
<text x="75.86" y="322.20" font-size="4.5" text-anchor="middle" fill="#222" stroke="#222" stroke-width="0.12">25</text>
<text x="90.24" y="322.20" font-size="4.5" text-anchor="middle" fill="#222" stroke="#222" stroke-width="0.12">10</text>
<text x="104.62" y="322.20" font-size="4.5" text-anchor="middle" fill="#222" stroke="#222" stroke-width="0.12">6</text>
<text x="119.00" y="322.20" font-size="4.5" text-anchor="middle" fill="#222" stroke="#222" stroke-width="0.12">3</text>
<line x1="40.50" y1="326.00" x2="43.70" y2="326.00" stroke="#111" stroke-width="0.8"/>
<text x="38.00" y="327.85" font-size="5.2" text-anchor="end" fill="#222" stroke="#222" stroke-width="0.12">Yes</text>
<text x="47.10" y="327.60" font-size="4.5" text-anchor="middle" fill="#222" stroke="#222" stroke-width="0.12">32</text>
<text x="61.48" y="327.60" font-size="4.5" text-anchor="middle" fill="#222" stroke="#222" stroke-width="0.12">16</text>
<text x="75.86" y="327.60" font-size="4.5" text-anchor="middle" fill="#222" stroke="#222" stroke-width="0.12">10</text>
<text x="90.24" y="327.60" font-size="4.5" text-anchor="middle" fill="#222" stroke="#222" stroke-width="0.12">6</text>
<text x="104.62" y="327.60" font-size="4.5" text-anchor="middle" fill="#222" stroke="#222" stroke-width="0.12">4</text>
<text x="119.00" y="327.60" font-size="4.5" text-anchor="middle" fill="#222" stroke="#222" stroke-width="0.12">2</text>
<line x1="46.90" y1="329.50" x2="46.90" y2="332.70" stroke="#111" stroke-width="0.8"/>
<text x="46.90" y="340.80" font-size="5.5" text-anchor="middle" fill="#222" stroke="#222" stroke-width="0.12">0</text>
<line x1="61.28" y1="329.50" x2="61.28" y2="332.70" stroke="#111" stroke-width="0.8"/>
<text x="61.28" y="340.80" font-size="5.5" text-anchor="middle" fill="#222" stroke="#222" stroke-width="0.12">2</text>
<line x1="75.66" y1="329.50" x2="75.66" y2="332.70" stroke="#111" stroke-width="0.8"/>
<text x="75.66" y="340.80" font-size="5.5" text-anchor="middle" fill="#222" stroke="#222" stroke-width="0.12">4</text>
<line x1="90.04" y1="329.50" x2="90.04" y2="332.70" stroke="#111" stroke-width="0.8"/>
<text x="90.04" y="340.80" font-size="5.5" text-anchor="middle" fill="#222" stroke="#222" stroke-width="0.12">6</text>
<line x1="104.42" y1="329.50" x2="104.42" y2="332.70" stroke="#111" stroke-width="0.8"/>
<text x="104.42" y="340.80" font-size="5.5" text-anchor="middle" fill="#222" stroke="#222" stroke-width="0.12">8</text>
<line x1="118.80" y1="329.50" x2="118.80" y2="332.70" stroke="#111" stroke-width="0.8"/>
<text x="118.80" y="340.80" font-size="5.5" text-anchor="middle" fill="#222" stroke="#222" stroke-width="0.12">10</text>
<text x="0" y="0" font-size="7.4" text-anchor="middle" fill="#111" stroke="#111" stroke-width="0.15" font-weight="bold" textLength="19.7" lengthAdjust="spacingAndGlyphs" transform="translate(24.20,323.2) rotate(-90)">TP53 Alt</text>
<text x="200.10" y="216.00" font-size="7.3" text-anchor="middle" fill="#111" stroke="#111" stroke-width="0.2">non-Double Expressor by GEP</text>
<text x="174.25" y="224.55" font-size="4.6" text-anchor="start" fill="#222" textLength="16.50" lengthAdjust="spacingAndGlyphs" stroke="#222" stroke-width="0.05">TP53 Alt</text>
<line x1="196.40" y1="222.90" x2="200.75" y2="222.90" stroke="#4262a0" stroke-width="0.9"/>
<line x1="198.60" y1="222.00" x2="198.60" y2="223.30" stroke="#4262a0" stroke-width="0.8"/>
<text x="203.25" y="224.55" font-size="4.6" text-anchor="start" fill="#222" textLength="5.70" lengthAdjust="spacingAndGlyphs" stroke="#222" stroke-width="0.04">No</text>
<line x1="212.60" y1="222.90" x2="216.40" y2="222.90" stroke="#c32850" stroke-width="0.9"/>
<line x1="214.50" y1="222.00" x2="214.50" y2="223.30" stroke="#c32850" stroke-width="0.8"/>
<text x="219.25" y="224.55" font-size="4.6" text-anchor="start" fill="#222" textLength="6.50" lengthAdjust="spacingAndGlyphs" stroke="#222" stroke-width="0.05">Yes</text>
<line x1="160.70" y1="228.60" x2="160.70" y2="279.95" stroke="#111" stroke-width="1.2"/>
<line x1="160.10" y1="279.35" x2="239.20" y2="279.35" stroke="#111" stroke-width="1.2"/>
<line x1="157.40" y1="277.00" x2="160.70" y2="277.00" stroke="#111" stroke-width="0.8"/>
<text x="154.50" y="278.90" font-size="5.3" text-anchor="end" fill="#222" stroke="#222" stroke-width="0.12">0.00</text>
<line x1="157.40" y1="265.52" x2="160.70" y2="265.52" stroke="#111" stroke-width="0.8"/>
<text x="154.50" y="267.42" font-size="5.3" text-anchor="end" fill="#222" stroke="#222" stroke-width="0.12">0.25</text>
<line x1="157.40" y1="254.05" x2="160.70" y2="254.05" stroke="#111" stroke-width="0.8"/>
<text x="154.50" y="255.95" font-size="5.3" text-anchor="end" fill="#222" stroke="#222" stroke-width="0.12">0.50</text>
<line x1="157.40" y1="242.57" x2="160.70" y2="242.57" stroke="#111" stroke-width="0.8"/>
<text x="154.50" y="244.47" font-size="5.3" text-anchor="end" fill="#222" stroke="#222" stroke-width="0.12">0.75</text>
<line x1="157.40" y1="231.10" x2="160.70" y2="231.10" stroke="#111" stroke-width="0.8"/>
<text x="154.50" y="233.00" font-size="5.3" text-anchor="end" fill="#222" stroke="#222" stroke-width="0.12">1.00</text>
<line x1="163.90" y1="279.35" x2="163.90" y2="282.00" stroke="#111" stroke-width="0.8"/>
<text x="163.90" y="290.60" font-size="5.4" text-anchor="middle" fill="#222" stroke="#222" stroke-width="0.12">0</text>
<line x1="178.28" y1="279.35" x2="178.28" y2="282.00" stroke="#111" stroke-width="0.8"/>
<text x="178.28" y="290.60" font-size="5.4" text-anchor="middle" fill="#222" stroke="#222" stroke-width="0.12">2</text>
<line x1="192.66" y1="279.35" x2="192.66" y2="282.00" stroke="#111" stroke-width="0.8"/>
<text x="192.66" y="290.60" font-size="5.4" text-anchor="middle" fill="#222" stroke="#222" stroke-width="0.12">4</text>
<line x1="207.04" y1="279.35" x2="207.04" y2="282.00" stroke="#111" stroke-width="0.8"/>
<text x="207.04" y="290.60" font-size="5.4" text-anchor="middle" fill="#222" stroke="#222" stroke-width="0.12">6</text>
<line x1="221.42" y1="279.35" x2="221.42" y2="282.00" stroke="#111" stroke-width="0.8"/>
<text x="221.42" y="290.60" font-size="5.4" text-anchor="middle" fill="#222" stroke="#222" stroke-width="0.12">8</text>
<line x1="235.80" y1="279.35" x2="235.80" y2="282.00" stroke="#111" stroke-width="0.8"/>
<text x="235.80" y="290.60" font-size="5.4" text-anchor="middle" fill="#222" stroke="#222" stroke-width="0.12">10</text>
<text x="199.60" y="301.20" font-size="6.9" text-anchor="middle" fill="#111" font-weight="bold" textLength="53.10" lengthAdjust="spacingAndGlyphs" stroke="#111" stroke-width="0.25">Overall survival (years)</text>
<text x="0" y="0" font-size="6.8" text-anchor="middle" fill="#111" stroke="#111" stroke-width="0.2" textLength="44.3" lengthAdjust="spacingAndGlyphs" transform="translate(138.70,254.0) rotate(-90)">Survival probability</text>
<text x="165.60" y="269.70" font-size="4.35" text-anchor="start" fill="#222" stroke="#222" stroke-width="0.16">p = 0.1</text>
<path d="M164.30,231.00 H165.20 V233.50 H166.77 V234.50 H168.35 V235.50 H169.93 V236.50 H171.50 V237.50 H173.20 V238.65 H174.90 V239.80 H176.60 V240.65 H178.30 V241.50 H178.87 V242.50 H179.43 V243.50 H180.00 V244.50 H180.80 V246.80 H185.40 V247.50 H187.70 V248.65 H190.00 V249.80 H197.00 V249.80 H198.00 V252.20 H203.00 V252.20 H203.80 V254.50 H213.00 V254.50 H213.50 V258.70 H238.90 V258.70" fill="none" stroke="#c32850" stroke-width="1.0"/>
<path d="M164.30,231.00 H165.17 V231.93 H166.03 V232.87 H166.90 V233.80 H168.43 V234.83 H169.97 V235.87 H171.50 V236.90 H173.20 V238.20 H174.90 V239.50 H179.50 V241.00 H183.60 V241.95 H187.70 V242.90 H195.40 V244.10 H203.00 V245.20 H206.00 V246.50 H209.50 V247.50 H212.30 V249.10 H219.20 V249.40 H220.90 V250.30 H225.20 V251.00 H226.00 V251.90 H233.80 V251.90 H234.60 V253.20 H238.00 V253.60 H238.50 V255.30 H239.80 V255.30" fill="none" stroke="#33508c" stroke-width="0.95"/>
<line x1="200.00" y1="250.90" x2="200.00" y2="252.40" stroke="#c32850" stroke-width="0.75"/>
<line x1="207.00" y1="253.20" x2="207.00" y2="254.70" stroke="#c32850" stroke-width="0.75"/>
<line x1="216.00" y1="257.40" x2="216.00" y2="258.90" stroke="#c32850" stroke-width="0.75"/>
<line x1="222.00" y1="257.40" x2="222.00" y2="258.90" stroke="#c32850" stroke-width="0.75"/>
<line x1="228.00" y1="257.40" x2="228.00" y2="258.90" stroke="#c32850" stroke-width="0.75"/>
<line x1="233.00" y1="257.40" x2="233.00" y2="258.90" stroke="#c32850" stroke-width="0.75"/>
<line x1="201.00" y1="242.80" x2="201.00" y2="244.30" stroke="#33508c" stroke-width="0.75"/>
<line x1="208.00" y1="245.20" x2="208.00" y2="246.70" stroke="#33508c" stroke-width="0.75"/>
<line x1="215.00" y1="247.80" x2="215.00" y2="249.30" stroke="#33508c" stroke-width="0.75"/>
<line x1="222.00" y1="249.00" x2="222.00" y2="250.50" stroke="#33508c" stroke-width="0.75"/>
<line x1="228.00" y1="250.60" x2="228.00" y2="252.10" stroke="#33508c" stroke-width="0.75"/>
<line x1="231.00" y1="250.60" x2="231.00" y2="252.10" stroke="#33508c" stroke-width="0.75"/>
<line x1="236.00" y1="251.90" x2="236.00" y2="253.40" stroke="#33508c" stroke-width="0.75"/>
<text x="160.60" y="313.40" font-size="4.5" text-anchor="start" fill="#222" textLength="27.10" lengthAdjust="spacingAndGlyphs" stroke="#222" stroke-width="0.12">Number at risk</text>
<line x1="160.70" y1="317.10" x2="160.70" y2="329.90" stroke="#111" stroke-width="1.2"/>
<line x1="160.10" y1="329.30" x2="239.20" y2="329.30" stroke="#111" stroke-width="1.2"/>
<line x1="157.50" y1="320.60" x2="160.70" y2="320.60" stroke="#111" stroke-width="0.8"/>
<text x="155.00" y="322.45" font-size="5.2" text-anchor="end" fill="#222" stroke="#222" stroke-width="0.12">No</text>
<text x="164.10" y="322.20" font-size="4.5" text-anchor="middle" fill="#222" stroke="#222" stroke-width="0.12">404</text>
<text x="178.48" y="322.20" font-size="4.5" text-anchor="middle" fill="#222" stroke="#222" stroke-width="0.12">256</text>
<text x="192.86" y="322.20" font-size="4.5" text-anchor="middle" fill="#222" stroke="#222" stroke-width="0.12">154</text>
<text x="207.24" y="322.20" font-size="4.5" text-anchor="middle" fill="#222" stroke="#222" stroke-width="0.12">64</text>
<text x="221.62" y="322.20" font-size="4.5" text-anchor="middle" fill="#222" stroke="#222" stroke-width="0.12">33</text>
<text x="236.00" y="322.20" font-size="4.5" text-anchor="middle" fill="#222" stroke="#222" stroke-width="0.12">14</text>
<line x1="157.50" y1="326.00" x2="160.70" y2="326.00" stroke="#111" stroke-width="0.8"/>
<text x="155.00" y="327.85" font-size="5.2" text-anchor="end" fill="#222" stroke="#222" stroke-width="0.12">Yes</text>
<text x="164.10" y="327.60" font-size="4.5" text-anchor="middle" fill="#222" stroke="#222" stroke-width="0.12">73</text>
<text x="178.48" y="327.60" font-size="4.5" text-anchor="middle" fill="#222" stroke="#222" stroke-width="0.12">45</text>
<text x="192.86" y="327.60" font-size="4.5" text-anchor="middle" fill="#222" stroke="#222" stroke-width="0.12">18</text>
<text x="207.24" y="327.60" font-size="4.5" text-anchor="middle" fill="#222" stroke="#222" stroke-width="0.12">7</text>
<text x="221.62" y="327.60" font-size="4.5" text-anchor="middle" fill="#222" stroke="#222" stroke-width="0.12">2</text>
<text x="236.00" y="327.60" font-size="4.5" text-anchor="middle" fill="#222" stroke="#222" stroke-width="0.12">2</text>
<line x1="163.90" y1="329.50" x2="163.90" y2="332.70" stroke="#111" stroke-width="0.8"/>
<text x="163.90" y="340.80" font-size="5.5" text-anchor="middle" fill="#222" stroke="#222" stroke-width="0.12">0</text>
<line x1="178.28" y1="329.50" x2="178.28" y2="332.70" stroke="#111" stroke-width="0.8"/>
<text x="178.28" y="340.80" font-size="5.5" text-anchor="middle" fill="#222" stroke="#222" stroke-width="0.12">2</text>
<line x1="192.66" y1="329.50" x2="192.66" y2="332.70" stroke="#111" stroke-width="0.8"/>
<text x="192.66" y="340.80" font-size="5.5" text-anchor="middle" fill="#222" stroke="#222" stroke-width="0.12">4</text>
<line x1="207.04" y1="329.50" x2="207.04" y2="332.70" stroke="#111" stroke-width="0.8"/>
<text x="207.04" y="340.80" font-size="5.5" text-anchor="middle" fill="#222" stroke="#222" stroke-width="0.12">6</text>
<line x1="221.42" y1="329.50" x2="221.42" y2="332.70" stroke="#111" stroke-width="0.8"/>
<text x="221.42" y="340.80" font-size="5.5" text-anchor="middle" fill="#222" stroke="#222" stroke-width="0.12">8</text>
<line x1="235.80" y1="329.50" x2="235.80" y2="332.70" stroke="#111" stroke-width="0.8"/>
<text x="235.80" y="340.80" font-size="5.5" text-anchor="middle" fill="#222" stroke="#222" stroke-width="0.12">10</text>
<text x="0" y="0" font-size="7.4" text-anchor="middle" fill="#111" stroke="#111" stroke-width="0.15" font-weight="bold" textLength="19.7" lengthAdjust="spacingAndGlyphs" transform="translate(141.20,323.2) rotate(-90)">TP53 Alt</text>
<text x="266.10" y="191.70" font-size="11" text-anchor="start" fill="#000" font-weight="bold" stroke="#000" stroke-width="0.35">E</text>
<text x="273.70" y="201.30" font-size="7.3" text-anchor="start" fill="#111" textLength="43.80" lengthAdjust="spacingAndGlyphs" stroke="#111" stroke-width="0.12">Schmitz et al.</text>
<line x1="273.70" y1="206.10" x2="508.60" y2="206.10" stroke="#444" stroke-width="1.2"/>
<text x="341.10" y="216.00" font-size="7.3" text-anchor="middle" fill="#111" stroke="#111" stroke-width="0.2">Double Expressor by GEP</text>
<text x="315.25" y="224.55" font-size="4.6" text-anchor="start" fill="#222" textLength="16.50" lengthAdjust="spacingAndGlyphs" stroke="#222" stroke-width="0.05">TP53 Alt</text>
<line x1="337.40" y1="222.90" x2="341.75" y2="222.90" stroke="#4262a0" stroke-width="0.9"/>
<line x1="339.60" y1="222.00" x2="339.60" y2="223.30" stroke="#4262a0" stroke-width="0.8"/>
<text x="344.25" y="224.55" font-size="4.6" text-anchor="start" fill="#222" textLength="5.70" lengthAdjust="spacingAndGlyphs" stroke="#222" stroke-width="0.04">No</text>
<line x1="353.60" y1="222.90" x2="357.40" y2="222.90" stroke="#c32850" stroke-width="0.9"/>
<line x1="355.50" y1="222.00" x2="355.50" y2="223.30" stroke="#c32850" stroke-width="0.8"/>
<text x="360.25" y="224.55" font-size="4.6" text-anchor="start" fill="#222" textLength="6.50" lengthAdjust="spacingAndGlyphs" stroke="#222" stroke-width="0.05">Yes</text>
<line x1="301.70" y1="228.60" x2="301.70" y2="279.95" stroke="#111" stroke-width="1.2"/>
<line x1="301.10" y1="279.35" x2="380.20" y2="279.35" stroke="#111" stroke-width="1.2"/>
<line x1="298.40" y1="277.00" x2="301.70" y2="277.00" stroke="#111" stroke-width="0.8"/>
<text x="295.50" y="278.90" font-size="5.3" text-anchor="end" fill="#222" stroke="#222" stroke-width="0.12">0.00</text>
<line x1="298.40" y1="265.52" x2="301.70" y2="265.52" stroke="#111" stroke-width="0.8"/>
<text x="295.50" y="267.42" font-size="5.3" text-anchor="end" fill="#222" stroke="#222" stroke-width="0.12">0.25</text>
<line x1="298.40" y1="254.05" x2="301.70" y2="254.05" stroke="#111" stroke-width="0.8"/>
<text x="295.50" y="255.95" font-size="5.3" text-anchor="end" fill="#222" stroke="#222" stroke-width="0.12">0.50</text>
<line x1="298.40" y1="242.57" x2="301.70" y2="242.57" stroke="#111" stroke-width="0.8"/>
<text x="295.50" y="244.47" font-size="5.3" text-anchor="end" fill="#222" stroke="#222" stroke-width="0.12">0.75</text>
<line x1="298.40" y1="231.10" x2="301.70" y2="231.10" stroke="#111" stroke-width="0.8"/>
<text x="295.50" y="233.00" font-size="5.3" text-anchor="end" fill="#222" stroke="#222" stroke-width="0.12">1.00</text>
<line x1="304.90" y1="279.35" x2="304.90" y2="282.00" stroke="#111" stroke-width="0.8"/>
<text x="304.90" y="290.60" font-size="5.4" text-anchor="middle" fill="#222" stroke="#222" stroke-width="0.12">0</text>
<line x1="319.28" y1="279.35" x2="319.28" y2="282.00" stroke="#111" stroke-width="0.8"/>
<text x="319.28" y="290.60" font-size="5.4" text-anchor="middle" fill="#222" stroke="#222" stroke-width="0.12">2</text>
<line x1="333.66" y1="279.35" x2="333.66" y2="282.00" stroke="#111" stroke-width="0.8"/>
<text x="333.66" y="290.60" font-size="5.4" text-anchor="middle" fill="#222" stroke="#222" stroke-width="0.12">4</text>
<line x1="348.04" y1="279.35" x2="348.04" y2="282.00" stroke="#111" stroke-width="0.8"/>
<text x="348.04" y="290.60" font-size="5.4" text-anchor="middle" fill="#222" stroke="#222" stroke-width="0.12">6</text>
<line x1="362.42" y1="279.35" x2="362.42" y2="282.00" stroke="#111" stroke-width="0.8"/>
<text x="362.42" y="290.60" font-size="5.4" text-anchor="middle" fill="#222" stroke="#222" stroke-width="0.12">8</text>
<line x1="376.80" y1="279.35" x2="376.80" y2="282.00" stroke="#111" stroke-width="0.8"/>
<text x="376.80" y="290.60" font-size="5.4" text-anchor="middle" fill="#222" stroke="#222" stroke-width="0.12">10</text>
<text x="340.60" y="301.20" font-size="6.9" text-anchor="middle" fill="#111" font-weight="bold" textLength="53.10" lengthAdjust="spacingAndGlyphs" stroke="#111" stroke-width="0.25">Overall survival (years)</text>
<text x="0" y="0" font-size="6.8" text-anchor="middle" fill="#111" stroke="#111" stroke-width="0.2" textLength="44.3" lengthAdjust="spacingAndGlyphs" transform="translate(279.70,254.0) rotate(-90)">Survival probability</text>
<text x="306.60" y="269.70" font-size="4.35" text-anchor="start" fill="#222" stroke="#222" stroke-width="0.16">p = 0.061</text>
<path d="M305.40,231.00 H306.00 V235.20 H306.24 V236.34 H306.48 V237.48 H306.72 V238.62 H306.96 V239.76 H307.20 V240.90 H308.90 V242.00 H309.40 V245.50 H311.20 V246.60 H312.30 V247.20 H312.90 V250.10 H313.50 V253.30 H323.80 V253.30 H324.30 V256.40 H333.00 V256.40 H333.20 V259.50 H361.80 V259.50 H362.00 V263.50 H369.80 V263.50" fill="none" stroke="#c32850" stroke-width="1.0"/>
<path d="M305.40,231.00 H306.30 V231.95 H307.20 V232.90 H308.05 V233.75 H308.90 V234.60 H309.45 V235.75 H310.00 V236.90 H312.30 V237.20 H314.00 V238.80 H314.90 V240.15 H315.80 V241.50 H318.60 V242.30 H320.30 V243.40 H326.60 V243.40 H327.80 V244.30 H330.70 V244.60 H331.35 V245.60 H332.00 V246.60 H333.50 V247.80 H336.40 V248.30 H337.25 V249.20 H338.10 V250.10 H350.30 V250.30 H350.87 V251.47 H351.43 V252.63 H352.00 V253.80 H374.40 V253.80 H374.60 V257.40 H381.50 V257.40" fill="none" stroke="#33508c" stroke-width="0.95"/>
<line x1="320.00" y1="252.00" x2="320.00" y2="253.50" stroke="#c32850" stroke-width="0.75"/>
<line x1="338.00" y1="258.20" x2="338.00" y2="259.70" stroke="#c32850" stroke-width="0.75"/>
<line x1="342.00" y1="258.20" x2="342.00" y2="259.70" stroke="#c32850" stroke-width="0.75"/>
<line x1="366.00" y1="262.20" x2="366.00" y2="263.70" stroke="#c32850" stroke-width="0.75"/>
<line x1="368.00" y1="262.20" x2="368.00" y2="263.70" stroke="#c32850" stroke-width="0.75"/>
<line x1="324.00" y1="242.10" x2="324.00" y2="243.60" stroke="#33508c" stroke-width="0.75"/>
<line x1="344.00" y1="248.80" x2="344.00" y2="250.30" stroke="#33508c" stroke-width="0.75"/>
<line x1="348.00" y1="248.80" x2="348.00" y2="250.30" stroke="#33508c" stroke-width="0.75"/>
<line x1="356.00" y1="252.50" x2="356.00" y2="254.00" stroke="#33508c" stroke-width="0.75"/>
<line x1="362.00" y1="252.50" x2="362.00" y2="254.00" stroke="#33508c" stroke-width="0.75"/>
<line x1="368.00" y1="252.50" x2="368.00" y2="254.00" stroke="#33508c" stroke-width="0.75"/>
<line x1="378.00" y1="256.10" x2="378.00" y2="257.60" stroke="#33508c" stroke-width="0.75"/>
<text x="301.60" y="313.40" font-size="4.5" text-anchor="start" fill="#222" textLength="27.10" lengthAdjust="spacingAndGlyphs" stroke="#222" stroke-width="0.12">Number at risk</text>
<line x1="301.70" y1="317.10" x2="301.70" y2="329.90" stroke="#111" stroke-width="1.2"/>
<line x1="301.10" y1="329.30" x2="380.20" y2="329.30" stroke="#111" stroke-width="1.2"/>
<line x1="298.50" y1="320.60" x2="301.70" y2="320.60" stroke="#111" stroke-width="0.8"/>
<text x="296.00" y="322.45" font-size="5.2" text-anchor="end" fill="#222" stroke="#222" stroke-width="0.12">No</text>
<text x="305.10" y="322.20" font-size="4.5" text-anchor="middle" fill="#222" stroke="#222" stroke-width="0.12">39</text>
<text x="319.48" y="322.20" font-size="4.5" text-anchor="middle" fill="#222" stroke="#222" stroke-width="0.12">26</text>
<text x="333.86" y="322.20" font-size="4.5" text-anchor="middle" fill="#222" stroke="#222" stroke-width="0.12">20</text>
<text x="348.24" y="322.20" font-size="4.5" text-anchor="middle" fill="#222" stroke="#222" stroke-width="0.12">15</text>
<text x="362.62" y="322.20" font-size="4.5" text-anchor="middle" fill="#222" stroke="#222" stroke-width="0.12">6</text>
<text x="377.00" y="322.20" font-size="4.5" text-anchor="middle" fill="#222" stroke="#222" stroke-width="0.12">4</text>
<line x1="298.50" y1="326.00" x2="301.70" y2="326.00" stroke="#111" stroke-width="0.8"/>
<text x="296.00" y="327.85" font-size="5.2" text-anchor="end" fill="#222" stroke="#222" stroke-width="0.12">Yes</text>
<text x="305.10" y="327.60" font-size="4.5" text-anchor="middle" fill="#222" stroke="#222" stroke-width="0.12">21</text>
<text x="319.48" y="327.60" font-size="4.5" text-anchor="middle" fill="#222" stroke="#222" stroke-width="0.12">10</text>
<text x="333.86" y="327.60" font-size="4.5" text-anchor="middle" fill="#222" stroke="#222" stroke-width="0.12">6</text>
<text x="348.24" y="327.60" font-size="4.5" text-anchor="middle" fill="#222" stroke="#222" stroke-width="0.12">6</text>
<text x="362.62" y="327.60" font-size="4.5" text-anchor="middle" fill="#222" stroke="#222" stroke-width="0.12">3</text>
<text x="377.00" y="327.60" font-size="4.5" text-anchor="middle" fill="#222" stroke="#222" stroke-width="0.12">0</text>
<line x1="304.90" y1="329.50" x2="304.90" y2="332.70" stroke="#111" stroke-width="0.8"/>
<text x="304.90" y="340.80" font-size="5.5" text-anchor="middle" fill="#222" stroke="#222" stroke-width="0.12">0</text>
<line x1="319.28" y1="329.50" x2="319.28" y2="332.70" stroke="#111" stroke-width="0.8"/>
<text x="319.28" y="340.80" font-size="5.5" text-anchor="middle" fill="#222" stroke="#222" stroke-width="0.12">2</text>
<line x1="333.66" y1="329.50" x2="333.66" y2="332.70" stroke="#111" stroke-width="0.8"/>
<text x="333.66" y="340.80" font-size="5.5" text-anchor="middle" fill="#222" stroke="#222" stroke-width="0.12">4</text>
<line x1="348.04" y1="329.50" x2="348.04" y2="332.70" stroke="#111" stroke-width="0.8"/>
<text x="348.04" y="340.80" font-size="5.5" text-anchor="middle" fill="#222" stroke="#222" stroke-width="0.12">6</text>
<line x1="362.42" y1="329.50" x2="362.42" y2="332.70" stroke="#111" stroke-width="0.8"/>
<text x="362.42" y="340.80" font-size="5.5" text-anchor="middle" fill="#222" stroke="#222" stroke-width="0.12">8</text>
<line x1="376.80" y1="329.50" x2="376.80" y2="332.70" stroke="#111" stroke-width="0.8"/>
<text x="376.80" y="340.80" font-size="5.5" text-anchor="middle" fill="#222" stroke="#222" stroke-width="0.12">10</text>
<text x="0" y="0" font-size="7.4" text-anchor="middle" fill="#111" stroke="#111" stroke-width="0.15" font-weight="bold" textLength="19.7" lengthAdjust="spacingAndGlyphs" transform="translate(282.20,323.2) rotate(-90)">TP53 Alt</text>
<text x="458.10" y="216.00" font-size="7.3" text-anchor="middle" fill="#111" stroke="#111" stroke-width="0.2">non-Double Expressor by GEP</text>
<text x="432.25" y="224.55" font-size="4.6" text-anchor="start" fill="#222" textLength="16.50" lengthAdjust="spacingAndGlyphs" stroke="#222" stroke-width="0.05">TP53 Alt</text>
<line x1="454.40" y1="222.90" x2="458.75" y2="222.90" stroke="#4262a0" stroke-width="0.9"/>
<line x1="456.60" y1="222.00" x2="456.60" y2="223.30" stroke="#4262a0" stroke-width="0.8"/>
<text x="461.25" y="224.55" font-size="4.6" text-anchor="start" fill="#222" textLength="5.70" lengthAdjust="spacingAndGlyphs" stroke="#222" stroke-width="0.04">No</text>
<line x1="470.60" y1="222.90" x2="474.40" y2="222.90" stroke="#c32850" stroke-width="0.9"/>
<line x1="472.50" y1="222.00" x2="472.50" y2="223.30" stroke="#c32850" stroke-width="0.8"/>
<text x="477.25" y="224.55" font-size="4.6" text-anchor="start" fill="#222" textLength="6.50" lengthAdjust="spacingAndGlyphs" stroke="#222" stroke-width="0.05">Yes</text>
<line x1="418.70" y1="228.60" x2="418.70" y2="279.95" stroke="#111" stroke-width="1.2"/>
<line x1="418.10" y1="279.35" x2="497.20" y2="279.35" stroke="#111" stroke-width="1.2"/>
<line x1="415.40" y1="277.00" x2="418.70" y2="277.00" stroke="#111" stroke-width="0.8"/>
<text x="412.50" y="278.90" font-size="5.3" text-anchor="end" fill="#222" stroke="#222" stroke-width="0.12">0.00</text>
<line x1="415.40" y1="265.52" x2="418.70" y2="265.52" stroke="#111" stroke-width="0.8"/>
<text x="412.50" y="267.42" font-size="5.3" text-anchor="end" fill="#222" stroke="#222" stroke-width="0.12">0.25</text>
<line x1="415.40" y1="254.05" x2="418.70" y2="254.05" stroke="#111" stroke-width="0.8"/>
<text x="412.50" y="255.95" font-size="5.3" text-anchor="end" fill="#222" stroke="#222" stroke-width="0.12">0.50</text>
<line x1="415.40" y1="242.57" x2="418.70" y2="242.57" stroke="#111" stroke-width="0.8"/>
<text x="412.50" y="244.47" font-size="5.3" text-anchor="end" fill="#222" stroke="#222" stroke-width="0.12">0.75</text>
<line x1="415.40" y1="231.10" x2="418.70" y2="231.10" stroke="#111" stroke-width="0.8"/>
<text x="412.50" y="233.00" font-size="5.3" text-anchor="end" fill="#222" stroke="#222" stroke-width="0.12">1.00</text>
<line x1="421.90" y1="279.35" x2="421.90" y2="282.00" stroke="#111" stroke-width="0.8"/>
<text x="421.90" y="290.60" font-size="5.4" text-anchor="middle" fill="#222" stroke="#222" stroke-width="0.12">0</text>
<line x1="436.28" y1="279.35" x2="436.28" y2="282.00" stroke="#111" stroke-width="0.8"/>
<text x="436.28" y="290.60" font-size="5.4" text-anchor="middle" fill="#222" stroke="#222" stroke-width="0.12">2</text>
<line x1="450.66" y1="279.35" x2="450.66" y2="282.00" stroke="#111" stroke-width="0.8"/>
<text x="450.66" y="290.60" font-size="5.4" text-anchor="middle" fill="#222" stroke="#222" stroke-width="0.12">4</text>
<line x1="465.04" y1="279.35" x2="465.04" y2="282.00" stroke="#111" stroke-width="0.8"/>
<text x="465.04" y="290.60" font-size="5.4" text-anchor="middle" fill="#222" stroke="#222" stroke-width="0.12">6</text>
<line x1="479.42" y1="279.35" x2="479.42" y2="282.00" stroke="#111" stroke-width="0.8"/>
<text x="479.42" y="290.60" font-size="5.4" text-anchor="middle" fill="#222" stroke="#222" stroke-width="0.12">8</text>
<line x1="493.80" y1="279.35" x2="493.80" y2="282.00" stroke="#111" stroke-width="0.8"/>
<text x="493.80" y="290.60" font-size="5.4" text-anchor="middle" fill="#222" stroke="#222" stroke-width="0.12">10</text>
<text x="457.60" y="301.20" font-size="6.9" text-anchor="middle" fill="#111" font-weight="bold" textLength="53.10" lengthAdjust="spacingAndGlyphs" stroke="#111" stroke-width="0.25">Overall survival (years)</text>
<text x="0" y="0" font-size="6.8" text-anchor="middle" fill="#111" stroke="#111" stroke-width="0.2" textLength="44.3" lengthAdjust="spacingAndGlyphs" transform="translate(396.70,254.0) rotate(-90)">Survival probability</text>
<text x="423.60" y="269.70" font-size="4.35" text-anchor="start" fill="#222" stroke="#222" stroke-width="0.16">p = 0.37</text>
<path d="M422.40,231.00 H423.23 V232.00 H424.07 V233.00 H424.90 V234.00 H425.67 V234.97 H426.43 V235.93 H427.20 V236.90 H427.97 V238.03 H428.73 V239.17 H429.50 V240.30 H431.20 V241.45 H432.90 V242.60 H434.60 V243.45 H436.30 V244.30 H436.90 V245.27 H437.50 V246.23 H438.10 V247.20 H466.30 V247.30 H468.40 V247.00 H481.80 V247.00 H482.60 V252.20 H492.10 V252.20 H492.60 V256.30 H497.20 V256.30" fill="none" stroke="#c32850" stroke-width="1.0"/>
<path d="M422.40,231.00 H423.40 V232.10 H424.40 V233.20 H425.40 V234.30 H427.20 V235.20 H428.35 V236.35 H429.50 V237.50 H432.90 V238.40 H434.60 V239.65 H436.30 V240.90 H440.90 V241.80 H448.40 V242.00 H450.70 V243.20 H454.70 V243.80 H456.00 V244.20 H461.20 V245.30 H462.20 V246.50 H466.30 V247.00 H467.30 V248.40 H472.50 V248.80 H486.90 V249.40 H497.20 V249.40 H497.80 V251.60" fill="none" stroke="#33508c" stroke-width="0.95"/>
<line x1="445.00" y1="245.90" x2="445.00" y2="247.40" stroke="#c32850" stroke-width="0.75"/>
<line x1="452.00" y1="245.90" x2="452.00" y2="247.40" stroke="#c32850" stroke-width="0.75"/>
<line x1="458.00" y1="245.90" x2="458.00" y2="247.40" stroke="#c32850" stroke-width="0.75"/>
<line x1="470.00" y1="245.70" x2="470.00" y2="247.20" stroke="#c32850" stroke-width="0.75"/>
<line x1="474.00" y1="245.70" x2="474.00" y2="247.20" stroke="#c32850" stroke-width="0.75"/>
<line x1="477.00" y1="245.70" x2="477.00" y2="247.20" stroke="#c32850" stroke-width="0.75"/>
<line x1="488.00" y1="250.90" x2="488.00" y2="252.40" stroke="#c32850" stroke-width="0.75"/>
<line x1="444.00" y1="240.50" x2="444.00" y2="242.00" stroke="#33508c" stroke-width="0.75"/>
<line x1="452.00" y1="241.90" x2="452.00" y2="243.40" stroke="#33508c" stroke-width="0.75"/>
<line x1="460.00" y1="242.90" x2="460.00" y2="244.40" stroke="#33508c" stroke-width="0.75"/>
<line x1="470.00" y1="247.10" x2="470.00" y2="248.60" stroke="#33508c" stroke-width="0.75"/>
<line x1="476.00" y1="247.50" x2="476.00" y2="249.00" stroke="#33508c" stroke-width="0.75"/>
<line x1="488.00" y1="248.10" x2="488.00" y2="249.60" stroke="#33508c" stroke-width="0.75"/>
<line x1="494.00" y1="248.10" x2="494.00" y2="249.60" stroke="#33508c" stroke-width="0.75"/>
<line x1="497.70" y1="261.00" x2="498.90" y2="261.00" stroke="#c32850" stroke-width="0.9"/>
<text x="418.60" y="313.40" font-size="4.5" text-anchor="start" fill="#222" textLength="27.10" lengthAdjust="spacingAndGlyphs" stroke="#222" stroke-width="0.12">Number at risk</text>
<line x1="418.70" y1="317.10" x2="418.70" y2="329.90" stroke="#111" stroke-width="1.2"/>
<line x1="418.10" y1="329.30" x2="497.20" y2="329.30" stroke="#111" stroke-width="1.2"/>
<line x1="415.50" y1="320.60" x2="418.70" y2="320.60" stroke="#111" stroke-width="0.8"/>
<text x="413.00" y="322.45" font-size="5.2" text-anchor="end" fill="#222" stroke="#222" stroke-width="0.12">No</text>
<text x="422.10" y="322.20" font-size="4.5" text-anchor="middle" fill="#222" stroke="#222" stroke-width="0.12">135</text>
<text x="436.48" y="322.20" font-size="4.5" text-anchor="middle" fill="#222" stroke="#222" stroke-width="0.12">88</text>
<text x="450.86" y="322.20" font-size="4.5" text-anchor="middle" fill="#222" stroke="#222" stroke-width="0.12">75</text>
<text x="465.24" y="322.20" font-size="4.5" text-anchor="middle" fill="#222" stroke="#222" stroke-width="0.12">64</text>
<text x="479.62" y="322.20" font-size="4.5" text-anchor="middle" fill="#222" stroke="#222" stroke-width="0.12">47</text>
<text x="494.00" y="322.20" font-size="4.5" text-anchor="middle" fill="#222" stroke="#222" stroke-width="0.12">19</text>
<line x1="415.50" y1="326.00" x2="418.70" y2="326.00" stroke="#111" stroke-width="0.8"/>
<text x="413.00" y="327.85" font-size="5.2" text-anchor="end" fill="#222" stroke="#222" stroke-width="0.12">Yes</text>
<text x="422.10" y="327.60" font-size="4.5" text-anchor="middle" fill="#222" stroke="#222" stroke-width="0.12">43</text>
<text x="436.48" y="327.60" font-size="4.5" text-anchor="middle" fill="#222" stroke="#222" stroke-width="0.12">26</text>
<text x="450.86" y="327.60" font-size="4.5" text-anchor="middle" fill="#222" stroke="#222" stroke-width="0.12">22</text>
<text x="465.24" y="327.60" font-size="4.5" text-anchor="middle" fill="#222" stroke="#222" stroke-width="0.12">21</text>
<text x="479.62" y="327.60" font-size="4.5" text-anchor="middle" fill="#222" stroke="#222" stroke-width="0.12">12</text>
<text x="494.00" y="327.60" font-size="4.5" text-anchor="middle" fill="#222" stroke="#222" stroke-width="0.12">5</text>
<line x1="421.90" y1="329.50" x2="421.90" y2="332.70" stroke="#111" stroke-width="0.8"/>
<text x="421.90" y="340.80" font-size="5.5" text-anchor="middle" fill="#222" stroke="#222" stroke-width="0.12">0</text>
<line x1="436.28" y1="329.50" x2="436.28" y2="332.70" stroke="#111" stroke-width="0.8"/>
<text x="436.28" y="340.80" font-size="5.5" text-anchor="middle" fill="#222" stroke="#222" stroke-width="0.12">2</text>
<line x1="450.66" y1="329.50" x2="450.66" y2="332.70" stroke="#111" stroke-width="0.8"/>
<text x="450.66" y="340.80" font-size="5.5" text-anchor="middle" fill="#222" stroke="#222" stroke-width="0.12">4</text>
<line x1="465.04" y1="329.50" x2="465.04" y2="332.70" stroke="#111" stroke-width="0.8"/>
<text x="465.04" y="340.80" font-size="5.5" text-anchor="middle" fill="#222" stroke="#222" stroke-width="0.12">6</text>
<line x1="479.42" y1="329.50" x2="479.42" y2="332.70" stroke="#111" stroke-width="0.8"/>
<text x="479.42" y="340.80" font-size="5.5" text-anchor="middle" fill="#222" stroke="#222" stroke-width="0.12">8</text>
<line x1="493.80" y1="329.50" x2="493.80" y2="332.70" stroke="#111" stroke-width="0.8"/>
<text x="493.80" y="340.80" font-size="5.5" text-anchor="middle" fill="#222" stroke="#222" stroke-width="0.12">10</text>
<text x="0" y="0" font-size="7.4" text-anchor="middle" fill="#111" stroke="#111" stroke-width="0.15" font-weight="bold" textLength="19.7" lengthAdjust="spacingAndGlyphs" transform="translate(399.20,323.2) rotate(-90)">TP53 Alt</text>
</svg>
<div class="bd"></div>
</div></body></html>
